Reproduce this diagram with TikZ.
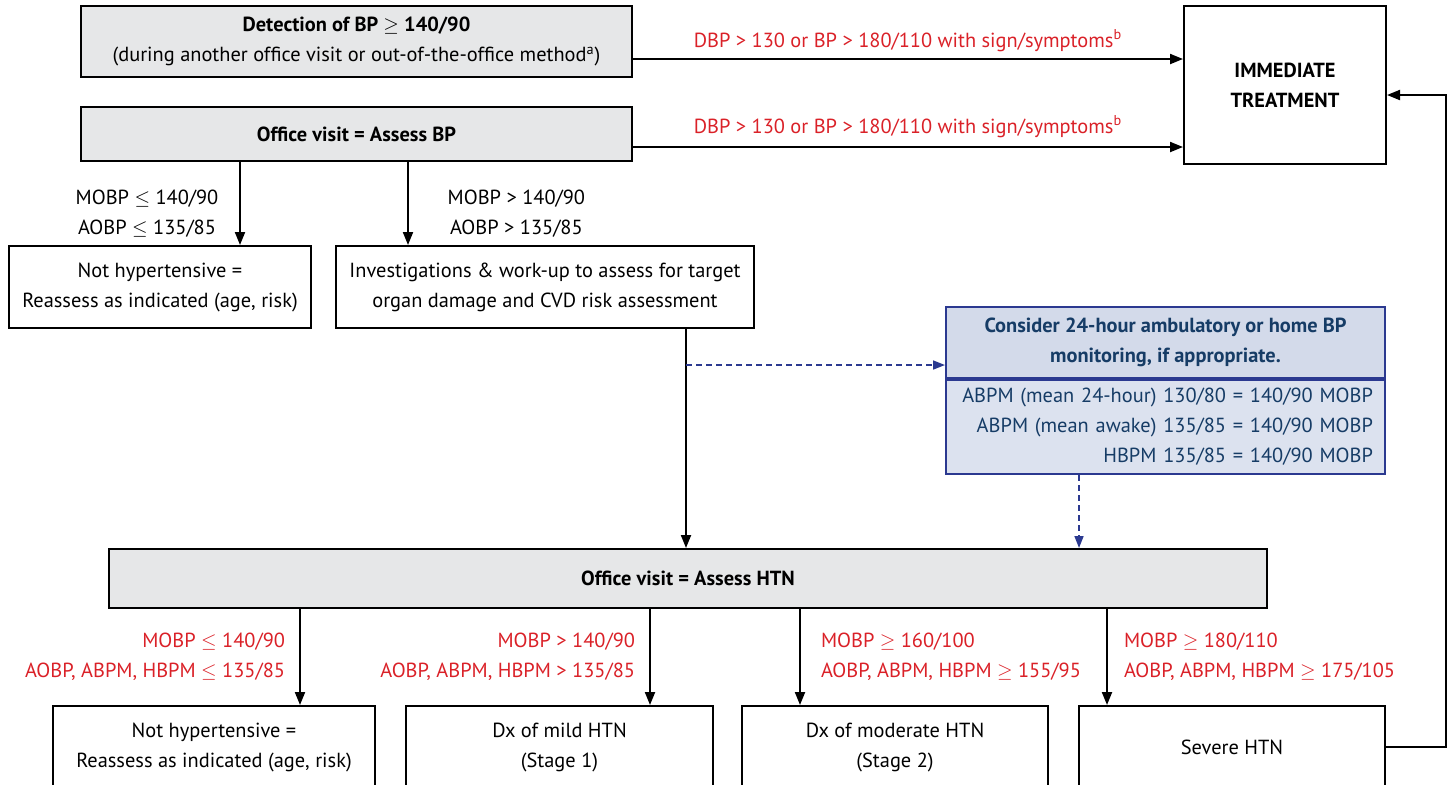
\documentclass[tikz,border=0pt]{standalone}
\usepackage{fontspec}
\setmainfont{PT Sans}
\usepackage{xcolor}
\definecolor{boxgray}{HTML}{E6E7E8}
\definecolor{cond}{HTML}{DA2128}
\definecolor{amblue}{HTML}{2B3990}
\definecolor{amtext}{HTML}{163C66}
\definecolor{amhead}{HTML}{D3DAEA}
\definecolor{ambody}{HTML}{DCE2EF}
\usepackage{tikz}
\usetikzlibrary{arrows.meta}
\usetikzlibrary{positioning}
\tikzstyle{greybox} = [rectangle, draw, line width=1pt, fill=boxgray,
    align=center, inner sep=2pt]
\tikzstyle{block} = [rectangle, draw, line width=1pt, fill=white,
    align=center, inner sep=2pt]
\tikzstyle{line} = [draw, line width=1pt, -{Triangle[length=6.5pt,width=5pt]}]
\tikzstyle{dline} = [draw, line width=0.8pt, amblue, dashed, dash pattern=on 3pt off 2pt,
    -{Triangle[length=6pt,width=4.5pt]}]
\tikzstyle{crit} = [text=cond, align=right, inner sep=0pt]

\begin{document}
\begin{tikzpicture}[x=0.5pt,y=-0.5pt,font=\fontsize{10.2}{15}\selectfont]
\useasboundingbox (0,0) rectangle (1450,784);
\clip (0,0) rectangle (1450,784);

    % Place nodes
    \node [greybox, minimum width=275.5pt, minimum height=35.5pt] (detect) at (356.5,41.5)
        {\textbf{Detection of BP $\geq$ 140/90}\\(during another office visit or out-of-the-office method\textsuperscript{a})};
    \node [greybox, minimum width=275.5pt, minimum height=27pt] (assessbp) at (356.5,134)
        {\textbf{Office visit = Assess BP}};
    \node [block, minimum width=101pt, minimum height=79pt] (immed) at (1285,85)
        {\textbf{IMMEDIATE}\\\textbf{TREATMENT}};

    \node [block, minimum width=151pt, minimum height=41pt] (nothtn) at (160,287)
        {Not hypertensive =\\Reassess as indicated (age, risk)};
    \node [block, minimum width=209pt, minimum height=41pt] (workup) at (545,287)
        {Investigations \& work-up to assess for target\\organ damage and CVD risk assessment};

    \node [rectangle, draw=amblue, line width=1pt, fill=amhead, text=amtext, align=center,
        minimum width=219.5pt, minimum height=35.5pt] (ambhead) at (1165.5,342.5)
        {\textbf{Consider 24-hour ambulatory or home BP}\\\textbf{monitoring, if appropriate.}};
    \node [rectangle, draw=amblue, line width=1pt, fill=ambody, text=amtext, align=right,
        inner xsep=6pt, text width=207.5pt, minimum height=47pt, below=0pt of ambhead] (ambbody)
        {ABPM (mean 24-hour) 130/80 = 140/90 MOBP\\ABPM (mean awake) 135/85 = 140/90 MOBP\\HBPM 135/85 = 140/90 MOBP};

    \node [greybox, minimum width=579pt, minimum height=29.5pt] (assesshtn) at (688,578.5)
        {\textbf{Office visit = Assess HTN}};

    \node [block, minimum width=161pt, minimum height=41pt] (normal) at (214,747)
        {Not hypertensive =\\Reassess as indicated (age, risk)};
    \node [block, minimum width=153.5pt, minimum height=41pt] (mild) at (559.5,747)
        {Dx of mild HTN\\(Stage 1)};
    \node [block, minimum width=153pt, minimum height=41pt] (moderate) at (895,747)
        {Dx of moderate HTN\\(Stage 2)};
    \node [block, minimum width=153pt, minimum height=41pt] (severe) at (1232,747)
        {Severe HTN};

    % x positions of the drops
    \coordinate (xa) at (240,0);
    \coordinate (xb) at (408,0);
    \coordinate (xc) at (686,365);
    \coordinate (xd) at (1079,0);
    \coordinate (x1) at (300,0);
    \coordinate (x2) at (650,0);
    \coordinate (x3) at (800,0);
    \coordinate (x4) at (1107,0);
    \coordinate (back) at (1446,95);

    % Connectors
    \path [line] (detect.east |- 0,59) -- node[above=0pt, text=cond] {DBP > 130 or BP > 180/110 with sign/symptoms\textsuperscript{b}} (immed.west |- 0,59);
    \path [line] (assessbp.east |- 0,147) -- node[above=1pt, text=cond] {DBP > 130 or BP > 180/110 with sign/symptoms\textsuperscript{b}} (immed.west |- 0,147);

    \path [line] (assessbp.south -| xa) -- node[left=7pt, yshift=-5pt, align=center] {MOBP $\leq$ 140/90\\AOBP $\leq$ 135/85} (nothtn.north -| xa);
    \path [line] (assessbp.south -| xb) -- node[right=16pt, yshift=-5pt, align=center] {MOBP > 140/90\\AOBP > 135/85} (workup.north -| xb);

    \path [line] (workup.south -| xc) -- (assesshtn.north -| xc);
    \path [dline] (xc) -- (ambhead.west |- xc);
    \path [dline] (ambbody.south -| xd) -- (assesshtn.north -| xd);

    \path [line] (assesshtn.south -| x1) -- node[crit, left=7pt] {MOBP $\leq$ 140/90\\AOBP, ABPM, HBPM $\leq$ 135/85} (normal.north -| x1);
    \path [line] (assesshtn.south -| x2) -- node[crit, left=7pt] {MOBP > 140/90\\AOBP, ABPM, HBPM > 135/85} (mild.north -| x2);
    \path [line] (assesshtn.south -| x3) -- node[crit, align=left, right=10pt] {MOBP $\geq$ 160/100\\AOBP, ABPM, HBPM $\geq$ 155/95} (moderate.north -| x3);
    \path [line] (assesshtn.south -| x4) -- node[crit, align=left, right=8pt] {MOBP $\geq$ 180/110\\AOBP, ABPM, HBPM $\geq$ 175/105} (severe.north -| x4);

    \path [line] (severe.east) -| (back) -- (immed.east |- back);
\end{tikzpicture}
\end{document}
